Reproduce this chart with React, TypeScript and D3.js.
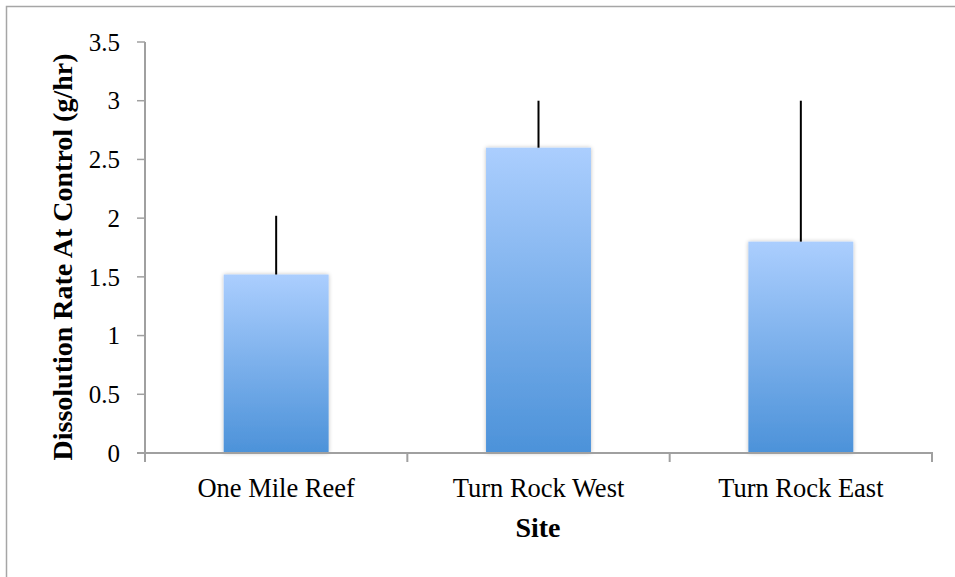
import React from "react";
import * as d3 from "d3";

const sites = ["One Mile Reef", "Turn Rock West", "Turn Rock East"];
const rates = [1.52, 2.6, 1.8];
const errors = [0.5, 0.4, 1.2];
const yTicks = [0, 0.5, 1, 1.5, 2, 2.5, 3, 3.5];

const W = 955;
const H = 577;
const m = { left: 145, right: 932, top: 42, bottom: 453 };
const FONT = "'Liberation Serif', 'DejaVu Serif', serif";

export default function App() {
  const x = d3.scaleBand<string>().domain(sites).range([m.left, m.right]).paddingInner(0).paddingOuter(0);
  const y = d3.scaleLinear().domain([0, 3.5]).range([m.bottom, m.top]);
  const bw = x.bandwidth() / 2.5;
  const axisColor = "#a0a0a0";
  return (
    <svg width={W} height={H} style={{ position: "absolute", left: 0, top: 0 }}>
      <defs>
        <linearGradient id="barGrad" x1="0" y1="0" x2="0" y2="1">
          <stop offset="0" stopColor="#abcefe" />
          <stop offset="1" stopColor="#4c92d9" />
        </linearGradient>
        <filter id="shadow" x="-20%" y="-5%" width="140%" height="110%">
          <feGaussianBlur in="SourceAlpha" stdDeviation="2" />
          <feOffset dx="0" dy="0" result="b" />
          <feComponentTransfer>
            <feFuncA type="linear" slope="0.25" />
          </feComponentTransfer>
          <feMerge>
            <feMergeNode />
            <feMergeNode in="SourceGraphic" />
          </feMerge>
        </filter>
      </defs>
      <rect x={0} y={0} width={W} height={H} fill="#ffffff" />
      <path d={`M6.5,${H + 5} V6.5 H${W + 5}`} fill="none" stroke="#a6a6a6" strokeWidth={1.5} />
      {sites.map((s, i) => {
        const cx = (x(s) as number) + x.bandwidth() / 2;
        return (
          <rect
            key={s}
            x={cx - bw / 2}
            y={y(rates[i])}
            width={bw}
            height={y(0) - y(rates[i])}
            fill="url(#barGrad)"
            filter="url(#shadow)"
          />
        );
      })}
      {sites.map((s, i) => {
        const cx = (x(s) as number) + x.bandwidth() / 2;
        return (
          <line
            key={s}
            x1={cx}
            x2={cx}
            y1={y(rates[i])}
            y2={y(rates[i] + errors[i])}
            stroke="#000"
            strokeWidth={2}
          />
        );
      })}
      <line x1={m.left} x2={m.left} y1={m.top} y2={m.bottom} stroke={axisColor} strokeWidth={2} />
      {yTicks.map((t) => (
        <g key={t}>
          <line x1={m.left - 8} x2={m.left} y1={y(t)} y2={y(t)} stroke={axisColor} strokeWidth={1.5} />
          <text x={120} y={y(t)} dy="0.35em" textAnchor="end" fontFamily={FONT} fontSize={25} fill="#000">
            {t}
          </text>
        </g>
      ))}
      <line x1={m.left - 8} x2={m.right + 1} y1={m.bottom} y2={m.bottom} stroke={axisColor} strokeWidth={2} />
      {[...sites.map((s) => x(s) as number), m.right].map((t, i) => (
        <line key={i} x1={t} x2={t} y1={m.bottom} y2={m.bottom + 9} stroke={axisColor} strokeWidth={2} />
      ))}
      {sites.map((s) => (
        <text
          key={s}
          x={(x(s) as number) + x.bandwidth() / 2}
          y={497}
          textAnchor="middle"
          fontFamily={FONT}
          fontSize={26.5}
          fill="#000"
        >
          {s}
        </text>
      ))}
      <text x={538} y={537} textAnchor="middle" fontFamily={FONT} fontSize={28} fontWeight="bold" fill="#000">
        Site
      </text>
      <text
        transform={`translate(72, 257) rotate(-90)`}
        textAnchor="middle"
        fontFamily={FONT}
        fontSize={28}
        fontWeight="bold"
        fill="#000"
      >
        Dissolution Rate At Control (g/hr)
      </text>
    </svg>
  );
}
